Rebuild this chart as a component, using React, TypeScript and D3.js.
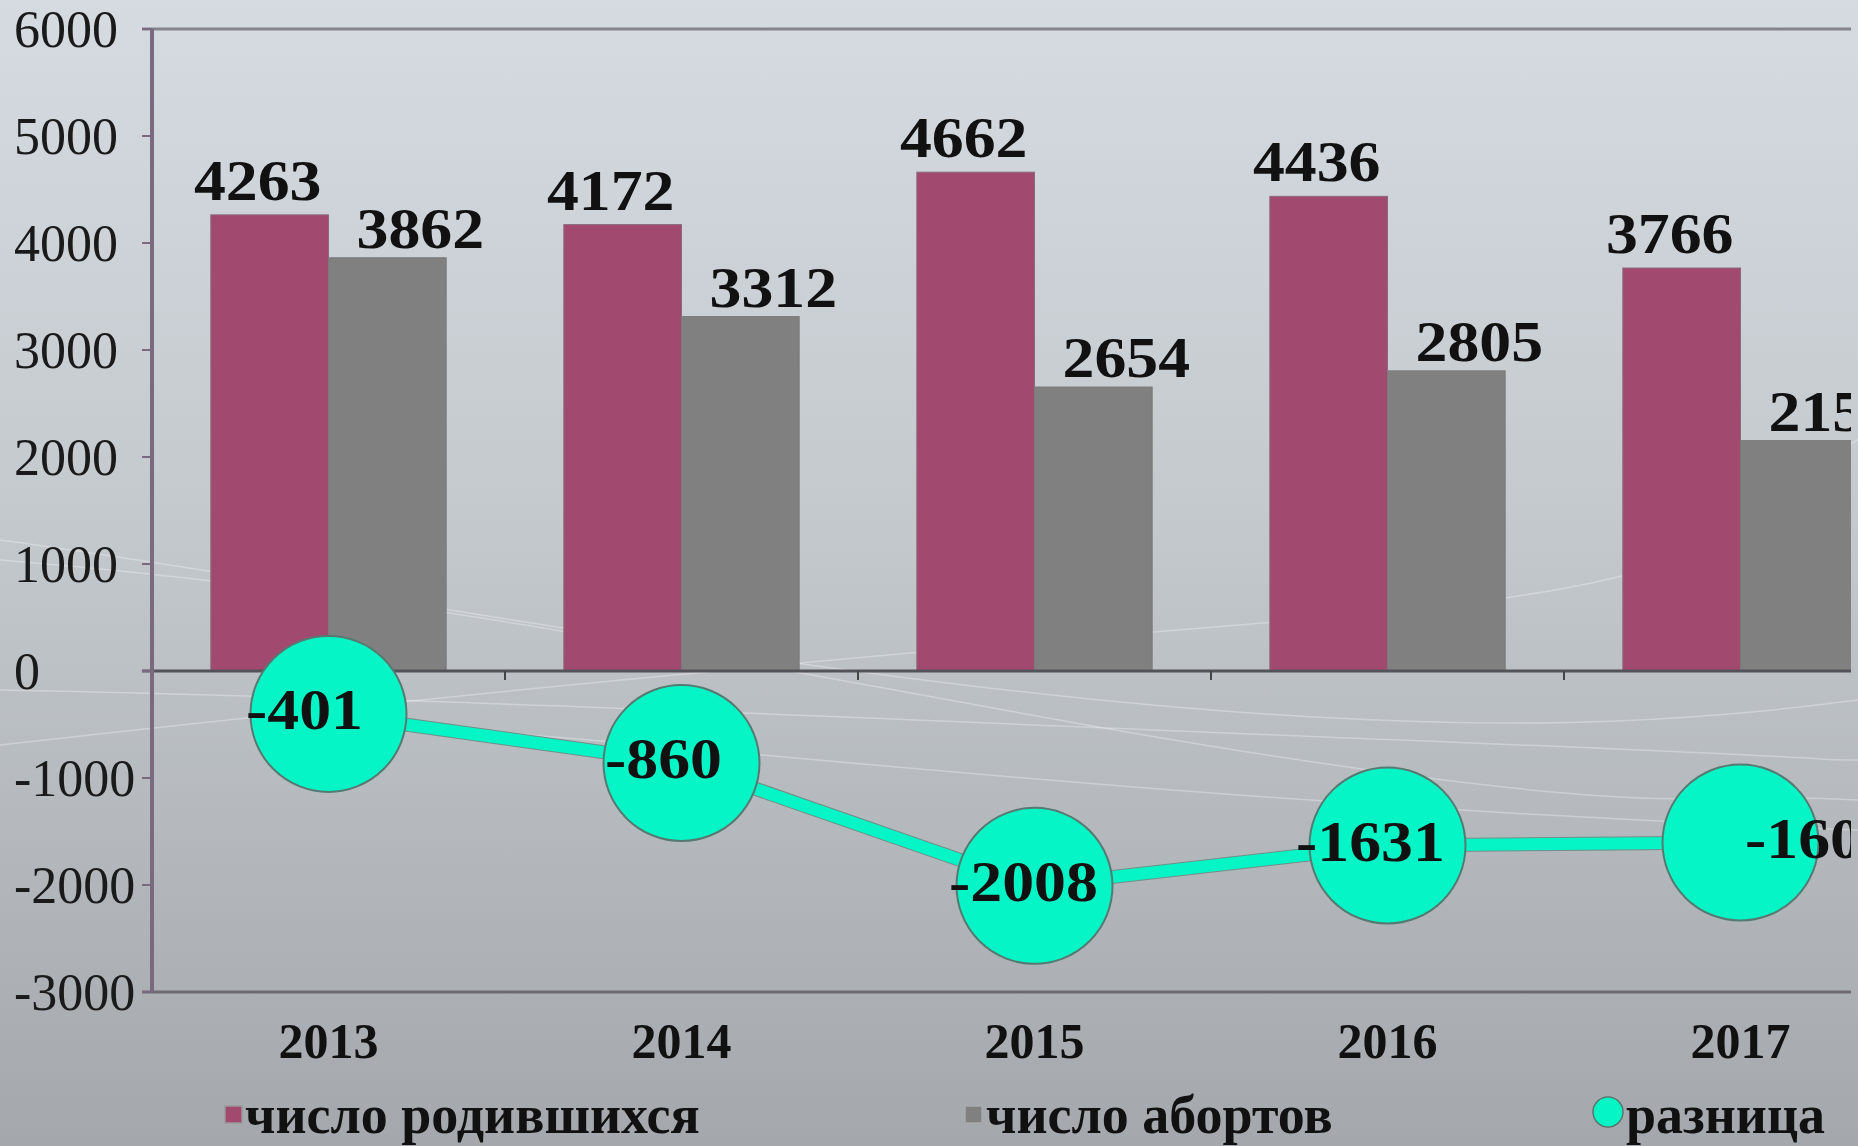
import * as d3 from "d3";

// chart data
const years = ["2013", "2014", "2015", "2016", "2017"];
const births = [4263, 4172, 4662, 4436, 3766];
const abortions = [3862, 3312, 2654, 2805, 2153];
const difference = [-401, -860, -2008, -1631, -1603];
const yTicks = [6000, 5000, 4000, 3000, 2000, 1000, 0, -1000, -2000, -3000];
const legendLabels = ["число родившихся", "число абортов", "разница"];

// label nudges (the source labels are not centred on their marks)
const diffLabelShift = [-24, -18, -11, -17, 79];

const W = 1858;
const H = 1146;
const serif = "'Liberation Serif', 'Times New Roman', serif";
const pink = "#a2496f";
const grey = "#808080";
const aqua = "#05f5c6";

// bold value label, a little wider than the plain font like in the source
function Label({ x, y, children }: { x: number; y: number; children: any }) {
  return (
    <g transform={`translate(${x},${y}) scale(1.1,1)`}>
      <text textAnchor="middle" fontWeight="bold" fontSize={58} fill="#111">
        {children}
      </text>
    </g>
  );
}

export default function App() {
  const left = 152;
  const step = 353;

  const x = d3
    .scaleBand()
    .domain(years)
    .range([left, left + step * years.length])
    .padding(0);

  const sub = d3
    .scaleBand()
    .domain(["births", "abortions"])
    .range([0, x.bandwidth()])
    .paddingInner(0)
    .paddingOuter(0.5);

  const y = d3.scaleLinear().domain([-3000, 6000]).range([992, 29]);

  const cx = (i: number) => (x(years[i]) as number) + x.bandwidth() / 2;

  const line = d3
    .line<number>()
    .x((_, i) => cx(i))
    .y((d) => y(d));

  const bw = sub.bandwidth();

  return (
    <svg
      width={W}
      height={H}
      style={{ position: "absolute", left: 0, top: 0 }}
      fontFamily={serif}
    >
      <defs>
        <linearGradient id="bg" x1="0" y1="0" x2="0" y2="1">
          <stop offset="0%" stopColor="#d6dbe1" />
          <stop offset="45%" stopColor="#c4c9ce" />
          <stop offset="100%" stopColor="#a4a8ac" />
        </linearGradient>
        <clipPath id="plotClip">
          <rect x={0} y={0} width={1851} height={H} />
        </clipPath>
      </defs>
      <rect width={W} height={H} fill="url(#bg)" />

      {/* faint decorative strokes in the background */}
      <g fill="none" stroke="#ffffff" strokeOpacity={0.3} strokeWidth={1.5}>
        <path d="M0,540 C300,580 700,660 1100,700 S1700,720 1858,700" />
        <path d="M0,745 C400,700 800,660 1300,620 S1700,520 1858,440" />
        <path d="M0,690 C500,700 900,720 1400,740 S1800,760 1858,760" />
        <path d="M0,560 C500,600 900,700 1300,760 S1700,790 1858,800" />
        <path d="M300,720 C700,740 1100,800 1858,830" />
      </g>

      <g clipPath="url(#plotClip)">
        {/* frame lines */}
        <line x1={142} x2={1858} y1={y(6000)} y2={y(6000)} stroke="#85848c" strokeWidth={3} />
        <line x1={142} x2={1858} y1={y(-3000)} y2={y(-3000)} stroke="#6e6c72" strokeWidth={3} />

        {/* bars */}
        {years.map((yr, i) => (
          <g key={yr}>
            <rect
              x={(x(yr) as number) + (sub("births") as number)}
              y={y(births[i])}
              width={bw}
              height={y(0) - y(births[i])}
              fill={pink}
              stroke="#8a6a7a"
              strokeWidth={1}
            />
            <rect
              x={(x(yr) as number) + (sub("abortions") as number)}
              y={y(abortions[i])}
              width={bw}
              height={y(0) - y(abortions[i])}
              fill={grey}
              stroke="#7a7a7a"
              strokeWidth={1}
            />
          </g>
        ))}

        {/* bar labels */}
        {years.map((yr, i) => (
          <g key={"l" + yr}>
            <Label
              x={(x(yr) as number) + (sub("births") as number) + bw / 2 - 12}
              y={y(births[i]) - 15}
            >
              {births[i]}
            </Label>
            <Label
              x={(x(yr) as number) + (sub("abortions") as number) + bw / 2 + 33}
              y={y(abortions[i]) - 10}
            >
              {abortions[i]}
            </Label>
          </g>
        ))}

        {/* zero axis with category ticks */}
        <line x1={142} x2={1858} y1={y(0)} y2={y(0)} stroke="#55535a" strokeWidth={3} />
        {years.slice(1).map((yr) => (
          <line
            key={"t" + yr}
            x1={x(yr) as number}
            x2={x(yr) as number}
            y1={y(0)}
            y2={y(0) + 9}
            stroke="#444"
            strokeWidth={2}
          />
        ))}

        {/* difference line */}
        <path d={line(difference) || ""} fill="none" stroke="#6f9088" strokeWidth={14} />
        <path d={line(difference) || ""} fill="none" stroke={aqua} strokeWidth={12} />
        {difference.map((d, i) => (
          <circle
            key={"c" + i}
            cx={cx(i)}
            cy={y(d)}
            r={78}
            fill={aqua}
            stroke="#557a72"
            strokeWidth={2}
          />
        ))}
        {difference.map((d, i) => (
          <Label key={"d" + i} x={cx(i) + diffLabelShift[i]} y={y(d) + 15}>
            {d}
          </Label>
        ))}
      </g>

      {/* y axis */}
      <line x1={left} x2={left} y1={y(6000)} y2={y(-3000)} stroke="#7b6a7f" strokeWidth={4} />
      {yTicks.map((t) => (
        <g key={"y" + t}>
          <line x1={142} x2={left} y1={y(t)} y2={y(t)} stroke="#7b6a7f" strokeWidth={2} />
          <text x={14} y={y(t) + 18} fontSize={52} fill="#1a1a1a">
            {t}
          </text>
        </g>
      ))}

      {/* x labels */}
      {years.map((yr, i) => (
        <text
          key={"x" + yr}
          x={cx(i)}
          y={1058}
          textAnchor="middle"
          fontWeight="bold"
          fontSize={50}
          fill="#111"
        >
          {yr}
        </text>
      ))}

      {/* legend */}
      <g fontWeight="bold" fontSize={54} fill="#111">
        <rect x={225} y={1106} width={17} height={17} fill={pink} stroke="#999" strokeWidth={1.5} />
        <text x={245} y={1133}>{legendLabels[0]}</text>
        <rect x={965} y={1106} width={17} height={17} fill={grey} stroke="#aaa" strokeWidth={1.5} />
        <text x={986} y={1133}>{legendLabels[1]}</text>
        <circle cx={1608} cy={1112} r={15} fill={aqua} stroke="#557a72" strokeWidth={1.5} />
        <text x={1626} y={1133}>{legendLabels[2]}</text>
      </g>
    </svg>
  );
}
